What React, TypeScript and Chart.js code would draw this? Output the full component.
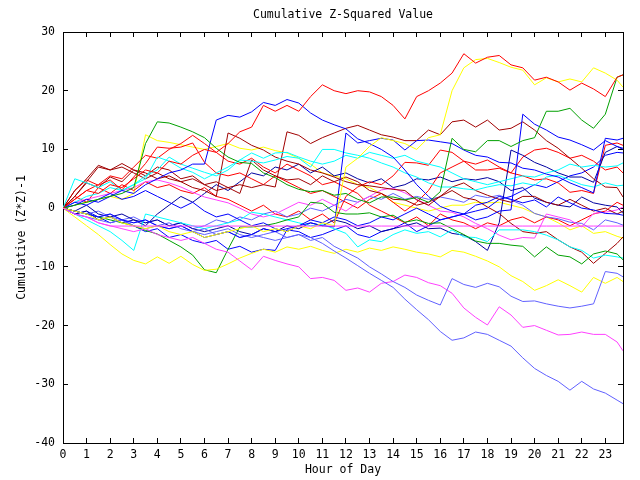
import React, { useEffect, useRef } from "react";
import { Chart, registerables } from "chart.js";

Chart.register(...registerables);

const HOURS = [
  0, 0.5, 1, 1.5, 2, 2.5, 3, 3.5, 4, 4.5, 5, 5.5, 6, 6.5, 7, 7.5, 8, 8.5, 9, 9.5,
  10, 10.5, 11, 11.5, 12, 12.5, 13, 13.5, 14, 14.5, 15, 15.5, 16, 16.5, 17, 17.5,
  18, 18.5, 19, 19.5, 20, 20.5, 21, 21.5, 22, 22.5, 23, 23.5, 23.75,
];

const X_TICK_LABELS = [
  "0", "1", "2", "3", "4", "5", "6", "7", "8", "9", "10", "11",
  "12", "13", "14", "15", "16", "17", "18", "19", "20", "21", "22", "23",
];
const Y_TICKS = [30, 20, 10, 0, -10, -20, -30, -40];

const TITLE = "Cumulative Z-Squared Value";
const X_TITLE = "Hour of Day";
const Y_TITLE = "Cumulative (Z*Z)-1";

// series values, one per half hour (last point at 23.75)
const MAG_FLAT = [
  0, -1, -1.5, -2.5, -3.05, -3.05, -3.05, -3.05,
  -3.05, -3.05, -3.05, -3.05, -3.05, -3.05, -3.05, -3.05,
  -3.05, -3.05, -3.05, -3.05, -3.05, -3.05, -3.05, -3.05,
  -3.05, -3.05, -3.05, -3.05, -3.05, -3.05, -3.05, -3.05,
  -3.05, -3.05, -3.05, -3.05, -3.05, -3.05, -3.05, -3.05,
  -3.05, -3.05, -3.05, -3.05, -3.05, -3.05, -3.05, -3.05,
  -3.05,
];
const RED_A = [
  0, 1.5, 3, 2.5, 4, 3.5, 5, 6.5,
  6, 8, 7.5, 9, 10, 9.5, 11, 13,
  13.8, 17.5, 16.5, 17.5, 16.5, 19, 21, 20,
  19.5, 20, 19.8, 19, 17.5, 15.2, 19, 20,
  21.3, 23, 26.3, 24.7, 25.7, 26, 24.4, 23.9,
  21.8, 22.3, 21.5, 20.1, 21.3, 20.3, 19, 22.3,
  22.7,
];
const YELLOW_B = [
  0, -0.5, -1, -2, -1.5, -2.5, -3, -3.5,
  -3, -4, -4.5, -4, -5, -4.5, -4, -3.5,
  -3, -4, -3.5, -4, -3, -3.5, -2.5, -3,
  7, 8.5, 10.5, 12, 11.5, 11, 10, 12,
  12.5, 20, 23.9, 25.3, 25.5, 24.8, 24, 23.5,
  21, 22.2, 21.5, 22, 21.5, 23.9, 23, 21.8,
  20.6,
];
const GREEN_C = [
  0, 0.5, 1, 1.5, 2, 2.5, 3.5, 11,
  14.7, 14.5, 13.8, 13, 12, 10.2, 8.7, 7.8,
  7.6, 6, 5.2, 4, 3.2, 2.8, 3, 2.2,
  2.5, 1.5, 0.9, 1.9, 1.9, 1.4, 1.8, 1,
  2.8, 11.9, 10, 9.6, 11.5, 11.5, 10.5, 11.5,
  12, 16.5, 16.5, 17, 15, 13.6, 16, 22.3,
  22.7,
];
const BLUE_D = [
  0, 0.5, 1.5, 1, 2, 3, 2.5, 4,
  5, 6, 6.5, 7.5, 7.5, 15, 15.8, 15.5,
  16.4, 18, 17.5, 18.5, 17.9, 16.2, 15, 14.2,
  13.5, 11.8, 11, 10, 8.7, 6.5, 4, 2,
  0.3, -0.5, -1, 0.5, 1, 2, 1.5, 0.9,
  1.4, 0.2, 1.9, 0.9, 0, -0.3, -0.9, -1,
  -1.2,
];
const BLUE_E = [
  0, -0.5, -1, -1.5, -1, -2, -2.5, -2,
  -3, -3.5, -3, -4, -5, -4.5, -4, -5,
  -4.5, -3.5, -4, -3.5, -3, -2.5, -3, -3.2,
  12.8, 11.1, 11.5, 11.9, 11.6, 9.9, 11.5, 11.6,
  11.3, 11, 9.9, 9, 8.7, 7.8, 7.7, 6.8,
  6.5, 5.8, 5.3, 4.3, 3.5, 2.6, 11.9, 11.6,
  11.9,
];
const BLUE_L = [
  0, 1, 0.5, 1.5, 2.5, 1.5, 2, 3,
  2, 1, 0, 1, -0.5, -1.5, -1, -2,
  -3, -2.5, -3.5, -4, -3, -2, -2.5, -1.5,
  -2, -3, -2.5, -1.5, -2, -1, 0, -1,
  -2, -1.5, -1, -2, -1.5, -0.5, -0.3, 16,
  14.3, 13.3, 12.1, 11.6, 10.8, 9.9, 11.5, 10.5,
  10.2,
];
const SLATE_F = [
  0, -0.5, -1, -1.5, -1, -2, -2.5, -2,
  -3, -3.5, -3, -4, -3.5, -4.5, -4, -5,
  -4.5, -5, -5.5, -5, -4.5, -5, -6, -7.3,
  -8.5, -9.8, -11.1, -12.3, -13.5, -15.5, -17.3, -19,
  -21, -22.5, -22.1, -21.1, -21.5, -22.5, -23.5, -25.5,
  -27.3, -28.5, -29.5, -31, -29.5, -30.8, -31.5, -32.7,
  -33.3,
];
const SLATE_G = [
  0, -1, -1.5, -2, -2.5, -2, -3, -3.5,
  -3, -2.5, -3.5, -4, -4.5, -4, -3.5, -4.5,
  -5, -4.5, -4, -5, -4.5, -5.5, -5, -6.5,
  -7.5, -8.5, -10, -11.2, -12.5, -13.5, -14.8, -15.7,
  -16.5, -12, -13, -13.5, -12.8, -13.4, -15, -15.9,
  -15.8, -16.3, -16.7, -17, -16.7, -16.3, -10.8, -11.1,
  -11.7,
];
const MAG_H = [
  0, -1, -1.5, -2.5, -3, -3.5, -4, -3.5,
  -4.5, -5, -5.5, -5, -6, -7, -7.5, -9,
  -10.5, -8.2, -8.9, -9.5, -10, -12, -11.8, -12.3,
  -14, -13.6, -14.3, -12.8, -12.5, -11.4, -11.8, -12.7,
  -13.2, -14.5, -17, -18.6, -19.9, -16.8, -18.2, -20.3,
  -20, -20.8, -21.6, -21.5, -21.1, -21.5, -21.5, -22.8,
  -24.3,
];
const YELLOW_I = [
  0, -1.5, -3, -4.5, -6.2, -7.8, -8.9, -9.5,
  -8.3, -9.4, -8.2, -9.6, -10.6, -10.4, -9.5, -8.5,
  -7.7, -7, -7.5, -6.6, -7, -6.5, -7.2, -7.7,
  -7, -7.5, -6.8, -7.2, -6.6, -7, -7.5, -7.8,
  -8.3, -7.2, -7.5, -8.2, -9, -10, -11.5, -12.5,
  -14, -13.2, -12.2, -13.2, -14.3, -11.8, -12.8, -11.8,
  -12.5,
];
const GREEN_J = [
  0, -0.5, -1, -1.5, -2, -2.5, -3, -3.8,
  -4.4, -5.5, -6.6, -8, -10.5, -11, -7, -3.2,
  -3.2, -3, -2.6, -2, -1.5, 1, 0.8, -0.7,
  -1, -1, -0.8, -1.5, -1.2, -2.4, -2, -2.6,
  -2.5, -3.5, -4.5, -5.6, -6, -6, -6.3, -6.5,
  -8.3, -6.6, -8, -8.3, -9.5, -7.8, -7.3, -7.8,
  -8.8,
];
const CYAN_LOW = [
  0, -1, -2, -3, -4, -5.5, -7.2, -1,
  -1.5, -2, -2.5, -3, -3.5, -3, -2.5, -2,
  -0.7, -1, -1.5, -2, -2.5, -3, -2.8, -3.5,
  -4.3, -6.6, -5.4, -5.7, -4.5, -3.7, -4.3, -4,
  -4.9, -3.7, -4.9, -5, -5.7, -3.7, -3.7, -3.7,
  -4, -4.6, -5.4, -6.6, -7.2, -8.5, -8, -8.3,
  -8.5,
];
const CYAN_MID1 = [
  0, 5, 4.3, 3.5, 4.5, 3, 4, 5.5,
  6.5, 8.7, 7.5, 6.8, 6.1, 5.5, 6.5, 8.2,
  8, 7.7, 8.2, 8.8, 8.5, 7, 10, 10,
  9.4, 9, 8.5, 7.7, 7, 6, 5.3, 4.3,
  3.6, 3.6, 3.3, 3.1, 3.6, 4, 3.8, 4.3,
  3.9, 5.3, 5.6, 4.8, 4, 3.6, 4.3, 3.8,
  3.9,
];
const CYAN_MID2 = [
  0, 1, 2, 2.5, 3.5, 3, 4, 5,
  8.7, 8, 6.8, 6.1, 5, 6, 7, 8.2,
  9.4, 8.5, 9.4, 9.5, 8.7, 8, 7.5, 8,
  9, 8.5, 9.5, 9, 8.5, 9, 8, 7.5,
  7, 6, 5, 4.5, 4, 4.5, 5, 5.5,
  5.3, 6, 6.5, 7.5, 7, 7.3, 7, 7.2,
  7.7,
];
const DARKRED_1 = [
  0, 2, 4.5, 7, 6.5, 7.6, 6.5, 6,
  5, 5.5, 4.5, 3.5, 3, 2, 12.8, 11.9,
  10.7, 9.9, 8.7, 8, 7.5, 6.5, 6, 5.3,
  4.5, 4, 3.8, 3.5, 3.2, 3, 1.4, 0.5,
  2, 3, 1.8, 1.4, 0.2, -0.9, -2.6, -4,
  -4.3, -4, -5.4, -6.6, -7.5, -9.4, -7.7, -6,
  -4.9,
];
const DARKRED_2 = [
  0, 3, 5, 7.3, 6.5, 7, 6, 5,
  6, 5, 4.5, 5, 4, 4.5, 3.5, 4,
  3.5, 4, 3.6, 13, 12.4, 11, 12, 12.8,
  13.6, 14.1, 13.3, 12.5, 12.1, 11.5, 11.5, 13.3,
  12.5, 14.7, 15, 13.8, 15, 13.3, 13.6, 14.7,
  13.3, 11.5, 10.2, 8.5, 6.8, 5, 3.6, 3.5,
  1.9,
];
const DARKRED_3 = [
  0, 2, 4.3, 3.5, 5.3, 4.5, 6.5, 5.5,
  7, 6.5, 5, 5.5, 4, 3, 3.5, 2.5,
  8.2, 6.5, 5.5, 4.8, 5, 4, 5.5, 4.5,
  5.3, 4.5, 3, 2.5, 1.5, 1.4, 0.5, 1,
  2, 3.6, 4.3, 3, 2.2, 1.5, 1, 2,
  2, 1, 0.5, 1.5, 0.5, -0.5, 0, -1,
  -0.5,
];
const MAG_M = [
  0, 1, 1.5, 2, 2.5, 3, 3.5, 4.5,
  4.8, 4.3, 3.6, 2.7, 1.9, 1.4, 0.9, 0,
  -1, -1.5, -1, 0, 1, 0.5, 1.5, 0.5,
  -0.5, 1, 2, 3.1, 3.4, 2.6, 1.5, 0.5,
  -0.5, -0.7, -1.5, -2.6, -3.5, -4.6, -5.4, -5,
  -5.1, -1, -1.5, -2, -3.2, -0.9, -0.7, -0.3,
  0.2,
];
const NAVY_N = [
  0, -0.5, 0.5, -1, -1.5, -1, -2, -2.5,
  -2, -3, -2.5, -3.5, -4, -3.5, -3, -4,
  -4.5, -3.5, -4, -3, -3.5, -2.5, -3, -2,
  -2.5, -3.5, -3, -4, -3.5, -3, -2.5, -3.5,
  -3.4, -4.3, -4.6, -5.7, -7.2, -2.5, 9.9, 9,
  7.8, 7, 6, 5.3, 5.3, 4.4, 9.5, 10.5,
  10,
];
const SLATE_S = [
  0, -0.5, -1, -0.5, -1.5, -2, -1.5, -2.5,
  -2, -3, -2.5, -3.5, -3, -2, -2.5, -1.5,
  -2, -1, -0.5, -1.5, -1, 0, -0.5, 0.5,
  1.5, 1, 2, 1.5, 2.5, 1.5, 2, 1.5,
  1.9, 1.5, 1, 2.2, 1.8, 2.2, 1.4, 0.5,
  -0.9, -1.5, -1.8, -2.4, -2.6, -3.7, -2, -2.5,
  -2.9,
];
const RED_P = [
  0, 3, 4.8, 3.9, 4.8, 3.1, 5.3, 7.6,
  10.4, 10.2, 10.4, 11.1, 7.8, 6, 5.5, 6,
  5, 4, 5.5, 4.5, 3.5, 2.5, 3, 2,
  1, 0, 1.5, 2.5, 1, -0.5, 1, 3,
  6, 7, 8, 7.5, 8.2, 7, 6, 5.5,
  4.8, 5, 4.3, 2.7, 3, 2.5, 10.7, 11.1,
  10.7,
];
const RED_T = [
  0, 2, 1, 3.5, 2.5, 4, 3, 4.5,
  3.5, 4, 3, 2.5, 3.5, 2, 1.5, 0.5,
  -0.5, 0.5, -1, -1.5, -0.5, -2, -1, -2.5,
  2, 3.6, 4.5, 4, 5.5, 7.8, 7.7, 7.3,
  9.9, 9.5, 8, 6.5, 6.5, 6.8, 6, 8.7,
  9.9, 10.2, 9.5, 8.5, 9, 8, 6.5, 7,
  6,
];
const RED_U = [
  0, 1.5, 3, 4, 5.5, 5, 7, 9,
  8.5, 10, 11, 12.4, 11, 9.5, 8, 7.5,
  8.5, 7, 6, 7.5, 6.5, 5.5, 4, 4.5,
  3.5, 2.5, 0.5, -0.5, -1.5, -2.5, -1.5, -3,
  -1, -2, -2.5, -3.5, -2.5, -3, -2, -1.5,
  -2.5, -1.5, -2, -3, -2, -1, -0.5, 1,
  0.5,
];
const NAVY_V = [
  0, -1, -0.5, -2, -1.5, -2.5, -2, -3,
  -1, 0.5, 2, 1, 2.5, 4, 3, 4.5,
  6, 5.5, 7, 6.5, 7.5, 6, 7, 5.5,
  6, 5, 4.3, 5, 3.5, 4, 5, 4.8,
  5.3, 4.5, 5, 4.8, 5.2, 4.5, 3, 3.5,
  1.7, 1, 0.5, 0.2, 1.9, 0.9, 0.5, 0.2,
  -0.9,
];
const BLUE_Y = [
  0, -1, -0.5, -1.5, -2.5, -2, -3, -4,
  -3.5, -5, -4.5, -5.5, -6, -5.5, -7, -6.5,
  -7.5, -7, -7.2, -3.7, -4, -5, -4.5, -3.7,
  -3, -4.5, -5, -4, -3.5, -2.5, -4, -3,
  -2, -1.5, -1, -0.5, 0, 1.5, 2, 3,
  4, 3.5, 4.5, 5.5, 6, 7, 9, 9.5,
  9.4,
];
const YELLOW_Q = [
  0, 0.5, 1, 1.5, 2, 1.5, 2.5, 12.5,
  11.5, 11.2, 10.8, 10.4, 10, 10.5, 11, 10.2,
  9.9, 10.4, 9.8, 9.4, 8.5, 7.5, 6, 5.5,
  5, 4, 3.5, 2.5, 1, 0.5, 0, -0.5,
  0, 0.5, 0.5, 1, 0.9, 1, 0.5, 0,
  -0.9, -1.5, -2.5, -3.7, -3, -4.3, -4, -4.8,
  -5.1,
];

const RED = "#ff0000";
const DARKRED = "#a00000";
const GREEN = "#00a000";
const BLUE = "#0000ff";
const NAVY = "#0000a0";
const SLATE = "#6060ff";
const CYAN = "#00ffff";
const MAGENTA = "#ff40ff";
const YELLOW = "#ffff00";

const SERIES: [number[], string][] = [
  [MAG_FLAT, MAGENTA],
  [RED_A, RED],
  [YELLOW_B, YELLOW],
  [GREEN_C, GREEN],
  [BLUE_D, BLUE],
  [BLUE_E, BLUE],
  [BLUE_L, BLUE],
  [SLATE_F, SLATE],
  [SLATE_G, SLATE],
  [MAG_H, MAGENTA],
  [YELLOW_I, YELLOW],
  [GREEN_J, GREEN],
  [CYAN_LOW, CYAN],
  [CYAN_MID1, CYAN],
  [CYAN_MID2, CYAN],
  [DARKRED_1, DARKRED],
  [DARKRED_2, DARKRED],
  [DARKRED_3, DARKRED],
  [MAG_M, MAGENTA],
  [NAVY_N, NAVY],
  [SLATE_S, SLATE],
  [RED_P, RED],
  [RED_T, RED],
  [RED_U, RED],
  [NAVY_V, NAVY],
  [BLUE_Y, BLUE],
  [YELLOW_Q, YELLOW],
];

const FONT = { family: "'DejaVu Sans Mono', monospace", size: 11.5 };

export default function App() {
  const ref = useRef<HTMLCanvasElement | null>(null);

  useEffect(() => {
    document.body.style.margin = "0";
    const canvas = ref.current;
    if (!canvas) return;

    const gridOpts = {
      display: true,
      drawOnChartArea: false,
      drawTicks: true,
      tickLength: -5,
      color: "#000",
      lineWidth: 1,
    };
    const borderOpts = { display: true, color: "#000", width: 1 };

    const chart = new Chart(canvas, {
      type: "line",
      data: {
        datasets: SERIES.map(([vals, color]) => ({
          data: HOURS.map((h, i) => ({ x: h, y: vals[i] })),
          borderColor: color,
          backgroundColor: color,
          borderWidth: 1,
          pointRadius: 0,
          fill: false,
          tension: 0,
          xAxisID: "x",
          yAxisID: "y",
        })),
      },
      options: {
        animation: false,
        responsive: false,
        devicePixelRatio: 1,
        layout: { padding: 0 },
        plugins: {
          legend: { display: false },
          title: { display: false },
          tooltip: { enabled: false },
        },
        events: [],
        scales: {
          x: {
            type: "linear",
            position: "bottom",
            min: 0,
            max: 23.75,
            ticks: {
              stepSize: 1,
              includeBounds: false,
              autoSkip: false,
              maxRotation: 0,
              padding: 10,
              color: "#000",
              font: FONT,
              callback: (v: any) => X_TICK_LABELS[Math.round(Number(v))] ?? "",
            },
            grid: gridOpts,
            border: borderOpts,
            title: {
              display: true,
              text: X_TITLE,
              color: "#000",
              font: FONT,
              padding: { top: 0, bottom: 3.4 },
            },
            afterFit: (s: any) => {
              s.height = 37;
            },
          },
          x2: {
            type: "linear",
            position: "top",
            min: 0,
            max: 23.75,
            ticks: { display: false, stepSize: 1, includeBounds: false, autoSkip: false },
            grid: gridOpts,
            border: borderOpts,
            title: {
              display: true,
              text: TITLE,
              color: "#000",
              font: FONT,
              padding: { top: 8.5, bottom: 0 },
            },
            afterFit: (s: any) => {
              s.height = 32;
            },
          },
          y: {
            type: "linear",
            position: "left",
            min: Y_TICKS[Y_TICKS.length - 1],
            max: Y_TICKS[0],
            ticks: {
              stepSize: 10,
              padding: 13,
              color: "#000",
              font: FONT,
              callback: (v: any) => String(v),
            },
            grid: gridOpts,
            border: borderOpts,
            title: {
              display: true,
              text: Y_TITLE,
              color: "#000",
              font: FONT,
              padding: { top: 15, bottom: 0 },
            },
            afterFit: (s: any) => {
              s.width = 63;
            },
          },
          y2: {
            type: "linear",
            position: "right",
            min: Y_TICKS[Y_TICKS.length - 1],
            max: Y_TICKS[0],
            ticks: { display: false, stepSize: 10 },
            grid: gridOpts,
            border: borderOpts,
            afterFit: (s: any) => {
              s.width = 17;
            },
          },
        },
      } as any,
    });

    return () => chart.destroy();
  }, []);

  return (
    <canvas
      ref={ref}
      width={640}
      height={480}
      style={{ display: "block", width: 640, height: 480 }}
    />
  );
}
